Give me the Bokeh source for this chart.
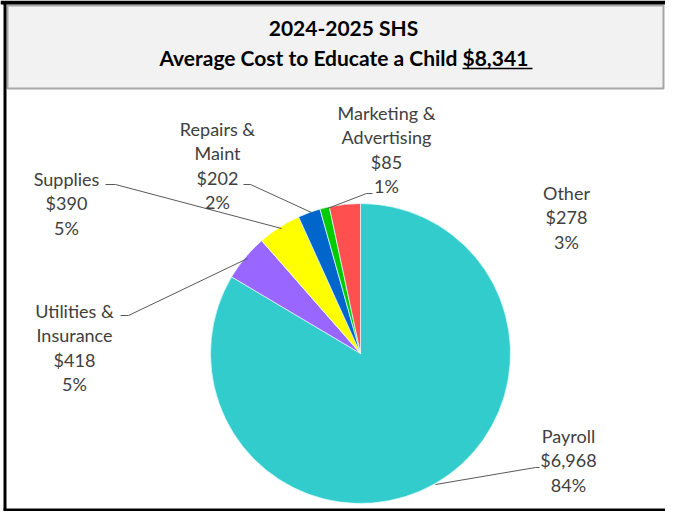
from bokeh.plotting import figure
from bokeh.models import Range1d, ColumnDataSource
from bokeh.embed import file_html
from bokeh.resources import INLINE
from bokeh.core.properties import value
import numpy as np

# ---------------- data ----------------
categories = ["Payroll", "Utilities & Insurance", "Supplies",
              "Repairs & Maint", "Marketing & Advertising", "Other"]
amounts = [6968, 418, 390, 202, 85, 278]
label_lines = [["Payroll"], ["Utilities &", "Insurance"], ["Supplies"],
               ["Repairs &", "Maint"], ["Marketing &", "Advertising"], ["Other"]]
colors = ["#33CCCC", "#9966FF", "#FFFF00", "#0066CC", "#00CC00", "#FF5050"]
title_line1 = "2024-2025 SHS"
title_line2 = "Average Cost to Educate a Child"
title_total = "$8,341"

# ---------------- layout (picture pixel coords, y down) ----------------
W, H = 665, 511
CX, CY, R = 360, 353, 150
label_pos = [(568, 435), (74, 310), (66, 178), (217, 128), (386, 112), (566, 192)]
LINE_H = 24.6
leaders = [
    [(435, 484), (535, 467), (539, 467)],   # Payroll
    [(247, 258), (128, 315), (120, 315)],   # Utilities
    [(281, 228), (115, 184), (105, 184)],   # Supplies
    [(311, 212), (250, 184), (243, 184)],   # Repairs
    [(327, 208), (366, 193), (372, 193)],   # Marketing
]
TXT = "#404040"
FONT = "Lato"

p = figure(width=W, height=H, output_backend="svg", toolbar_location=None,
           x_range=Range1d(0, W), y_range=Range1d(-H, 0),
           min_border=0)
p.axis.visible = False
p.grid.visible = False
p.outline_line_color = None
p.background_fill_color = "white"
p.border_fill_color = "white"

# title box
p.quad(left=[7], right=[663], top=[-5], bottom=[-88],
       fill_color="#F2F2F2", line_color="#A6A6A6", line_width=2)
p.text(x=[343], y=[-27], text=[title_line1], text_align="center",
       text_baseline="middle", text_font=value(FONT), text_font_style="bold",
       text_font_size="21px", text_color="black")
p.text(x=[457], y=[-57], text=[title_line2], text_align="right",
       text_baseline="middle", text_font=value(FONT), text_font_style="bold",
       text_font_size="21px", text_color="black")
p.text(x=[462], y=[-57], text=[title_total], text_align="left",
       text_baseline="middle", text_font=value(FONT), text_font_style="bold",
       text_font_size="21px", text_color="black")
p.line(x=[462, 532], y=[-68, -68], line_color="black", line_width=1.5)

# outer black border (left, top, bottom)
p.line(x=[4.5, 4.5], y=[-2, -509.5], line_color="black", line_width=3)
p.line(x=[0, W], y=[-2, -2], line_color="black", line_width=4)
p.line(x=[3, W], y=[-509.5, -509.5], line_color="black", line_width=3)

# pie (clockwise from 12 o'clock)
vals = np.array(amounts, dtype=float)
frac = vals / vals.sum()
cum = np.concatenate([[0], np.cumsum(frac)])
start = np.pi / 2 - cum[1:] * 2 * np.pi
end = np.pi / 2 - cum[:-1] * 2 * np.pi
src = ColumnDataSource(dict(start=start, end=end, color=colors))
p.wedge(x=CX, y=-CY, radius=R, radius_units="screen", start_angle="start",
        end_angle="end", fill_color="color", line_color="#E8FFFF",
        line_width=0.7, source=src)

# leader lines
for pts in leaders:
    p.line(x=[a for a, b in pts], y=[-b for a, b in pts],
           line_color="#595959", line_width=1)

# labels
total = vals.sum()
for i, cat in enumerate(categories):
    lines = label_lines[i] + [f"${amounts[i]:,}", f"{round(100 * amounts[i] / total):.0f}%"]
    cx, y1 = label_pos[i]
    ys = [-(y1 + k * LINE_H) for k in range(len(lines))]
    p.text(x=[cx] * len(lines), y=ys, text=lines, text_align="center",
           text_baseline="middle", text_font=value(FONT),
           text_font_size="18px", text_color=TXT)

open("out.html", "w").write(file_html(p, INLINE))
